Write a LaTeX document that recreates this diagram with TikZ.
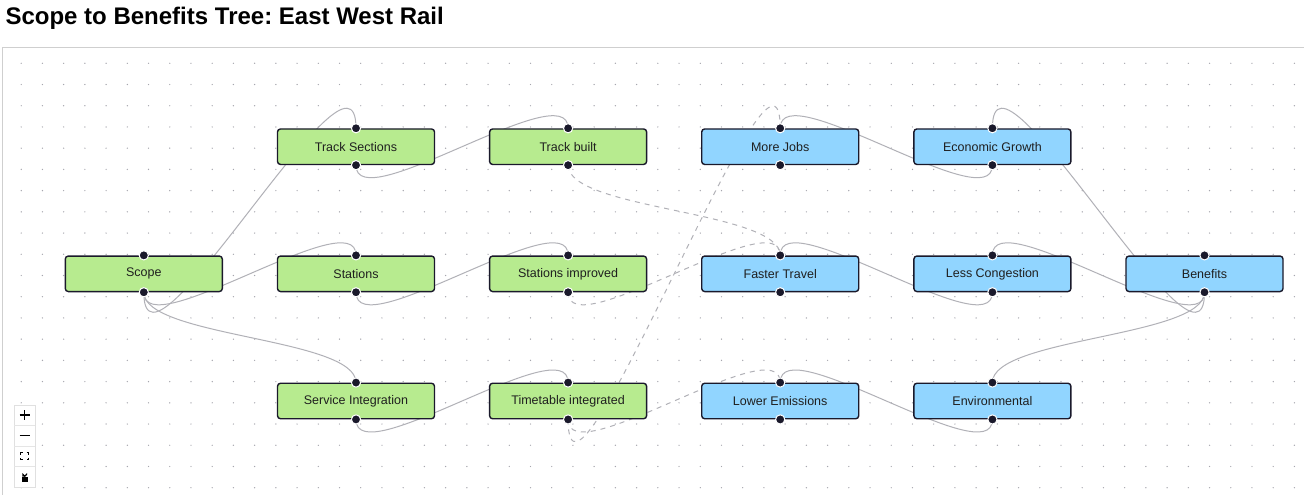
\documentclass[tikz,border=0pt]{standalone}
\usepackage{fontspec}
\setmainfont{Liberation Sans}
\usepackage{xcolor}
\usepackage{tikz}
\frenchspacing

% Livelli: sfondo sotto, archi in mezzo, blocchi sopra
\pgfdeclarelayer{fondo}
\pgfdeclarelayer{archi}
\pgfsetlayers{fondo,archi,main}

% Definizione dei colori
\definecolor{bordo}{HTML}{1A192B}
\definecolor{grigioarco}{HTML}{B1B1B7}
\definecolor{verde}{HTML}{B7EB8F}
\definecolor{azzurro}{HTML}{91D5FF}
\definecolor{puntini}{HTML}{A6A6AE}
\definecolor{cornice}{HTML}{CFCFCF}

\tikzset{
  blocco/.style={draw=bordo, line width=1.4pt, rounded corners=3pt,
    minimum width=157pt, minimum height=35.5pt, inner sep=0pt,
    text=black!88, font=\fontsize{12.5}{15}\selectfont},
  ambito/.style={blocco, fill=verde},
  beneficio/.style={blocco, fill=azzurro},
  legame/.style={draw=grigioarco, line width=1pt},
  previsto/.style={legame, dash pattern=on 5pt off 5pt},
  maniglia/.style={fill=bordo, draw=white, line width=1pt},
}

\begin{document}
\begin{tikzpicture}[x=1pt, y=-1pt]
        \useasboundingbox (0,0) rectangle (1304,495);

        % Sfondo, cornice e griglia a puntini
        \begin{pgfonlayer}{fondo}
        \fill[white] (0,0) rectangle (1304,495);
        \draw[cornice, line width=1pt] (2.5,495) -- (2.5,48) -- (1304,48);
        \foreach \i in {1,...,61}
            \foreach \j in {0,...,20}
                \fill[puntini] (21.22*\i, 63.3+21.22*\j) circle (0.7pt);
        \end{pgfonlayer}

        % Titolo
        \node (titolo) at (2,25) [anchor=base west, font=\fontsize{24}{28}\selectfont\bfseries]
            {Scope to Benefits Tree: East West Rail};

        % Blocchi di ambito (verdi)
        \node (scope) at (143.8,273.8) [ambito]{Scope};
        \node (tracksec) at (356,146.7) [ambito]{Track Sections};
        \node (stations) at (356,273.8) [ambito]{Stations};
        \node (serviceint) at (356,401) [ambito]{Service Integration};
        \node (trackbuilt) at (568.1,146.7) [ambito]{Track built};
        \node (stationsimp) at (568.1,273.8) [ambito]{Stations improved};
        \node (timetable) at (568.1,401) [ambito]{Timetable integrated};

        % Blocchi di beneficio (azzurri)
        \node (jobs) at (780.2,146.7) [beneficio]{More Jobs};
        \node (faster) at (780.2,273.8) [beneficio]{Faster Travel};
        \node (emissions) at (780.2,401) [beneficio]{Lower Emissions};
        \node (growth) at (992.4,146.7) [beneficio]{Economic Growth};
        \node (congestion) at (992.4,273.8) [beneficio]{Less Congestion};
        \node (environment) at (992.4,401) [beneficio]{Environmental};
        \node (benefits) at (1204.5,273.8) [beneficio]{Benefits};

        % Collegamenti
        \begin{pgfonlayer}{archi}
        \draw[legame] (scope.south) .. controls +(0,110) and +(0,-110) .. (tracksec.north);
        \draw[legame] (scope.south) .. controls +(0,55) and +(0,-55) .. (stations.north);
        \draw[legame] (scope.south) .. controls +(0,45) and +(0,-45) .. (serviceint.north);
        \draw[legame] (tracksec.south) .. controls +(0,55) and +(0,-55) .. (trackbuilt.north);
        \draw[legame] (stations.south) .. controls +(0,55) and +(0,-55) .. (stationsimp.north);
        \draw[legame] (serviceint.south) .. controls +(0,55) and +(0,-55) .. (timetable.north);
        \draw[previsto] (trackbuilt.south) .. controls +(0,45) and +(0,-45) .. (faster.north);
        \draw[previsto] (stationsimp.south) .. controls +(0,55) and +(0,-55) .. (faster.north);
        \draw[previsto] (timetable.south) .. controls +(0,140) and +(0,-140) .. (jobs.north);
        \draw[previsto] (timetable.south) .. controls +(0,55) and +(0,-55) .. (emissions.north);
        \draw[legame] (growth.south) .. controls +(0,55) and +(0,-55) .. (jobs.north);
        \draw[legame] (congestion.south) .. controls +(0,55) and +(0,-55) .. (faster.north);
        \draw[legame] (environment.south) .. controls +(0,55) and +(0,-55) .. (emissions.north);
        \draw[legame] (benefits.south) .. controls +(0,110) and +(0,-110) .. (growth.north);
        \draw[legame] (benefits.south) .. controls +(0,55) and +(0,-55) .. (congestion.north);
        \draw[legame] (benefits.south) .. controls +(0,45) and +(0,-45) .. (environment.north);
        \end{pgfonlayer}

        % Maniglie sopra e sotto ogni blocco
        \foreach \n in {scope,tracksec,stations,serviceint,trackbuilt,stationsimp,timetable,
                        jobs,faster,emissions,growth,congestion,environment,benefits}{
            \filldraw[maniglia] (\n.north) circle (4.6pt);
            \filldraw[maniglia] (\n.south) circle (4.6pt);
        }

        % Pulsanti di controllo in basso a sinistra
        \filldraw[draw=black!12, fill=white] (14,405) rectangle (35,487);
        \foreach \y in {425.5,446,466.5}
            \draw[black!10] (14,\y) -- (35,\y);
        \draw[line width=1.1pt] (19.5,415) -- (29.5,415) (24.5,410) -- (24.5,420);
        \draw[line width=1.1pt] (19.5,435.5) -- (29.5,435.5);
        \draw[line width=1pt] (20.5,454.5) -- (20.5,452.5) -- (22.5,452.5)
                              (26.5,452.5) -- (28.5,452.5) -- (28.5,454.5)
                              (28.5,457.5) -- (28.5,459.5) -- (26.5,459.5)
                              (22.5,459.5) -- (20.5,459.5) -- (20.5,457.5);
        \fill (21.5,476.5) rectangle (27.5,482);
        \draw[line width=1.2pt] (23,476.5) -- (23,474.5) arc[start angle=180, end angle=360, radius=1.7pt] -- (26.4,475.2);
\end{tikzpicture}
\end{document}
